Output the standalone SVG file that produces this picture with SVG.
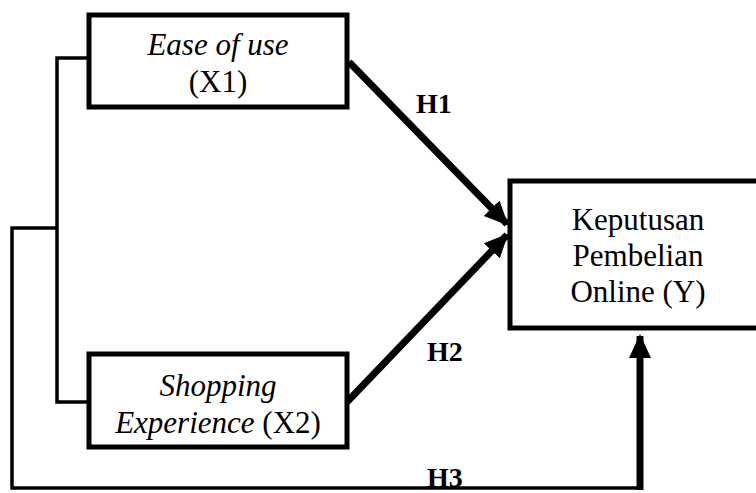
<svg xmlns="http://www.w3.org/2000/svg" width="756" height="493" viewBox="0 0 756 493">
<style>
.box{fill:#fff;stroke:#000;stroke-width:5}
.thin{fill:none;stroke:#000;stroke-width:3.5}
.thick{fill:none;stroke:#000;stroke-width:7}
.t{font-family:'Liberation Serif',Tinos,'Times New Roman',Times,serif;font-size:31px;fill:#000;text-anchor:middle}
.i{font-style:italic}
.h{font-family:'Liberation Serif',Tinos,'Times New Roman',Times,serif;font-size:28px;font-weight:bold;fill:#000}
</style>
<defs>
<marker id="ah" markerUnits="userSpaceOnUse" markerWidth="24" markerHeight="24" viewBox="0 0 24 24" refX="22" refY="12" orient="auto">
<path d="M0,1 L24,12 L0,23 Z" fill="#000"/>
</marker>
</defs>
<rect width="756" height="493" fill="#fff"/>
<g id="connectors">
<path class="thin" d="M89,58 H57 V402 H89"/>
<path class="thin" d="M57,228 H12 V488 H640"/>
<path class="thick" d="M640,490 V336" marker-end="url(#ah)"/>
<path class="thick" d="M349,62 L507,224" marker-end="url(#ah)"/>
<path class="thick" d="M347,402 L507,235" marker-end="url(#ah)"/>
</g>
<g id="labels">
<text class="h" x="416" y="113">H1</text>
<text class="h" x="427" y="361">H2</text>
<text class="h" x="427" y="487">H3</text>
</g>
<g id="x1">
<rect class="box" x="89" y="15" width="258" height="92"/>
<text class="t i" x="218" y="55">Ease of use</text>
<text class="t" x="218" y="92">(X1)</text>
</g>
<g id="x2">
<rect class="box" x="89" y="354" width="258" height="93"/>
<text class="t i" x="218" y="396">Shopping</text>
<text class="t" x="218" y="433"><tspan class="i">Experience</tspan> (X2)</text>
</g>
<g id="y">
<rect class="box" x="510" y="181" width="260" height="147"/>
<text class="t" x="638" y="230">Keputusan</text>
<text class="t" x="638" y="266">Pembelian</text>
<text class="t" x="638" y="302">Online (Y)</text>
</g>
</svg>
